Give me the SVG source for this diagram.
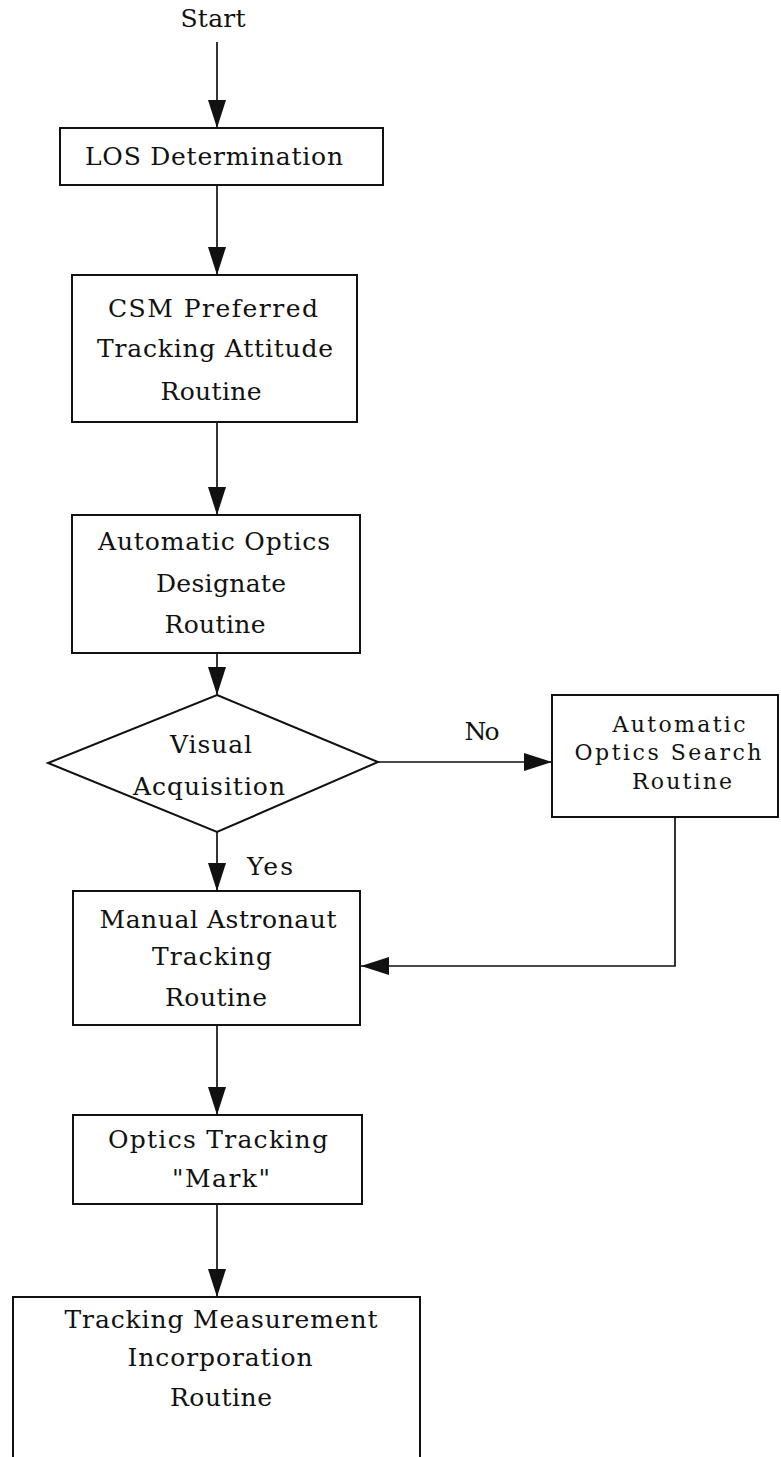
<svg xmlns="http://www.w3.org/2000/svg" width="781" height="1457" viewBox="0 0 781 1457">
<style>
.box{fill:#fff;stroke:#111;stroke-width:2}
.ln{fill:none;stroke:#111;stroke-width:1.7}
text{font-family:"DejaVu Serif","Liberation Serif",serif;font-size:25px;fill:#111;text-anchor:middle}
.sm{font-size:22px}
</style>
<defs>
<marker id="ah" markerUnits="userSpaceOnUse" markerWidth="30" markerHeight="20" refX="28" refY="9" orient="auto">
<path d="M0,0 L28,9 L0,18 z" fill="#111"/>
</marker>
</defs>
<rect width="781" height="1457" fill="#fff"/>
<g id="start"><text x="213" y="27" textLength="65" lengthAdjust="spacing">Start</text></g>
<g id="los">
<rect class="box" x="60" y="128" width="323" height="57"/>
<text x="214" y="165" textLength="258" lengthAdjust="spacing">LOS Determination</text>
</g>
<g id="csm">
<rect class="box" x="72" y="275" width="285" height="147"/>
<text x="213" y="317" textLength="210" lengthAdjust="spacing">CSM Preferred</text>
<text x="215" y="357" textLength="236" lengthAdjust="spacing">Tracking Attitude</text>
<text x="211" y="400" textLength="101" lengthAdjust="spacing">Routine</text>
</g>
<g id="designate">
<rect class="box" x="72" y="515" width="288" height="138"/>
<text x="214" y="550" textLength="232" lengthAdjust="spacing">Automatic Optics</text>
<text x="221" y="592" textLength="130" lengthAdjust="spacing">Designate</text>
<text x="215" y="633" textLength="101" lengthAdjust="spacing">Routine</text>
</g>
<g id="visual">
<polygon class="box" points="217,695 378,762 217,832 48,763"/>
<text x="211" y="753" textLength="82" lengthAdjust="spacing">Visual</text>
<text x="209" y="795" textLength="152" lengthAdjust="spacing">Acquisition</text>
</g>
<g id="search">
<rect class="box" x="552" y="695" width="226" height="122"/>
<text class="sm" x="679" y="732" textLength="133" lengthAdjust="spacing">Automatic</text>
<text class="sm" x="668" y="760" textLength="187" lengthAdjust="spacing">Optics Search</text>
<text class="sm" x="682" y="789" textLength="100" lengthAdjust="spacing">Routine</text>
</g>
<g id="manual">
<rect class="box" x="73" y="891" width="287" height="134"/>
<text x="218" y="928" textLength="237" lengthAdjust="spacing">Manual Astronaut</text>
<text x="212" y="965" textLength="120" lengthAdjust="spacing">Tracking</text>
<text x="216" y="1006" textLength="102" lengthAdjust="spacing">Routine</text>
</g>
<g id="mark">
<rect class="box" x="73" y="1115" width="289" height="89"/>
<text x="218" y="1148" textLength="220" lengthAdjust="spacing">Optics Tracking</text>
<text x="221" y="1187" textLength="98" lengthAdjust="spacing">"Mark"</text>
</g>
<g id="incorporation">
<rect class="box" x="13" y="1297" width="407" height="200"/>
<text x="221" y="1328" textLength="313" lengthAdjust="spacing">Tracking Measurement</text>
<text x="220" y="1366" textLength="185" lengthAdjust="spacing">Incorporation</text>
<text x="221" y="1406" textLength="102" lengthAdjust="spacing">Routine</text>
</g>
<g id="connectors">
<path class="ln" d="M217,42 V128" marker-end="url(#ah)"/>
<path class="ln" d="M217,185 V275" marker-end="url(#ah)"/>
<path class="ln" d="M217,422 V515" marker-end="url(#ah)"/>
<path class="ln" d="M217,653 V695" marker-end="url(#ah)"/>
<path class="ln" d="M378,762 H552" marker-end="url(#ah)"/>
<path class="ln" d="M217,832 V891" marker-end="url(#ah)"/>
<path class="ln" d="M675,817 V966 H361" marker-end="url(#ah)"/>
<path class="ln" d="M217,1025 V1115" marker-end="url(#ah)"/>
<path class="ln" d="M217,1204 V1297" marker-end="url(#ah)"/>
<text x="482" y="740" textLength="35" lengthAdjust="spacing">No</text>
<text x="270" y="875" textLength="46" lengthAdjust="spacing">Yes</text>
</g>
</svg>
